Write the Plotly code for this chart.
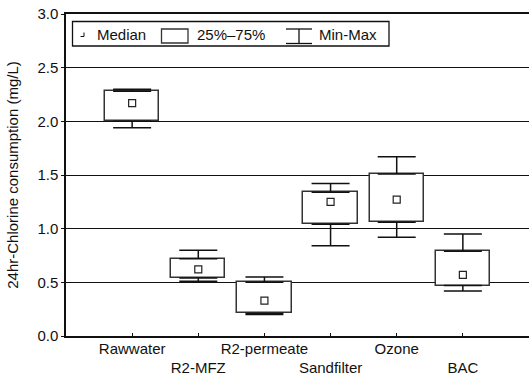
import plotly.graph_objects as go

# ---- data ----
categories = ["Rawwater", "R2-MFZ", "R2-permeate", "Sandfilter", "Ozone", "BAC"]
q1_vals     = [2.00, 0.54, 0.21, 1.04, 1.06, 0.47]
q3_vals     = [2.28, 0.72, 0.50, 1.34, 1.51, 0.79]
median_vals = [2.17, 0.62, 0.33, 1.25, 1.27, 0.57]
min_vals    = [1.94, 0.51, 0.20, 0.84, 0.92, 0.42]
max_vals    = [2.30, 0.80, 0.55, 1.42, 1.67, 0.95]
y_ticks = [0.0, 0.5, 1.0, 1.5, 2.0, 2.5, 3.0]
y_title = "24hr-Chlorine consumption (mg/L)"
legend_labels = ["Median", "25%\u201375%", "Min-Max"]

xpos = list(range(len(categories)))
tick_text = [c if i % 2 == 0 else "<br>" + c for i, c in enumerate(categories)]

FONT = "Liberation Sans, Arial, Helvetica, sans-serif"
W, H = 531, 375
ML, MR, MT, MB = 66, 2, 14, 39

fig = go.Figure()

# boxes (25%-75%)
fig.add_trace(go.Bar(
    x=xpos, y=[b - a for a, b in zip(q1_vals, q3_vals)], base=q1_vals,
    width=0.82, marker=dict(color="white", line=dict(color="#333333", width=1.5)),
    showlegend=False, hoverinfo="skip"))

# upper whiskers
fig.add_trace(go.Scatter(
    x=xpos, y=q3_vals, mode="markers",
    marker=dict(size=1, color="rgba(0,0,0,0)"),
    error_y=dict(type="data", symmetric=False,
                 array=[m - q for m, q in zip(max_vals, q3_vals)],
                 arrayminus=[0] * len(xpos),
                 color="#111111", thickness=1.5, width=19),
    showlegend=False, hoverinfo="skip"))

# lower whiskers
fig.add_trace(go.Scatter(
    x=xpos, y=q1_vals, mode="markers",
    marker=dict(size=1, color="rgba(0,0,0,0)"),
    error_y=dict(type="data", symmetric=False,
                 array=[0] * len(xpos),
                 arrayminus=[q - m for q, m in zip(q1_vals, min_vals)],
                 color="#111111", thickness=1.5, width=19),
    showlegend=False, hoverinfo="skip"))

# medians
fig.add_trace(go.Scatter(
    x=xpos, y=median_vals, mode="markers",
    marker=dict(symbol="square-open", size=7, color="#222222", line=dict(width=1.2)),
    showlegend=False, hoverinfo="skip"))

# ---- manual legend (paper coordinates) ----
pw, ph = W - ML - MR, H - MT - MB
def px(x):
    return (x - ML) / pw
def py(y):
    return (H - MB - y) / ph

shapes = [
    dict(type="rect", xref="paper", yref="paper", x0=px(72.5), x1=px(389), y0=py(46), y1=py(21.5),
         line=dict(color="#111111", width=1.3), fillcolor="white"),
    dict(type="path", xref="paper", yref="paper",
         path=f"M {px(80.5)},{py(36.5)} L {px(84)},{py(36.5)} L {px(84)},{py(32.5)}",
         line=dict(color="#111111", width=1)),
    dict(type="rect", xref="paper", yref="paper", x0=px(161.5), x1=px(188), y0=py(43), y1=py(29),
         line=dict(color="#333333", width=1.3)),
    dict(type="line", xref="paper", yref="paper", x0=px(286), x1=px(312), y0=py(29), y1=py(29),
         line=dict(color="#111111", width=1.3)),
    dict(type="line", xref="paper", yref="paper", x0=px(299), x1=px(299), y0=py(29), y1=py(43.5),
         line=dict(color="#111111", width=1.3)),
    dict(type="line", xref="paper", yref="paper", x0=px(286), x1=px(312), y0=py(43.5), y1=py(43.5),
         line=dict(color="#111111", width=1.3)),
]
annotations = []
for lx, txt in zip([95, 195, 317], legend_labels):
    annotations.append(dict(xref="paper", yref="paper", x=px(lx), y=py(35), text=txt,
                            showarrow=False, xanchor="left", yanchor="middle",
                            font=dict(family=FONT, size=15, color="#111111")))

fig.update_layout(
    width=W, height=H,
    margin=dict(l=ML, r=MR, t=MT, b=MB, pad=0),
    paper_bgcolor="white", plot_bgcolor="white",
    font=dict(family=FONT, size=15, color="#111111"),
    shapes=shapes, annotations=annotations,
    xaxis=dict(range=[-1, 6], tickvals=xpos, ticktext=tick_text, tickangle=0,
               automargin=False, ticklabelstandoff=-2,
               showgrid=False, zeroline=False, showline=True, mirror=True,
               linecolor="#111111", linewidth=1.5,
               ticks="inside", ticklen=3, tickcolor="#111111", tickwidth=1,
               tickfont=dict(size=15)),
    yaxis=dict(range=[0, 3], tickvals=y_ticks, tickformat=".1f", automargin=False,
               showgrid=True, gridcolor="#111111", gridwidth=1.3, zeroline=False,
               showline=True, linecolor="#111111", linewidth=1.5,
               ticks="outside", ticklen=3, tickcolor="#111111",
               tickfont=dict(size=15),
               title=dict(text=y_title, font=dict(size=15))),
    bargap=0,
)

fig.write_html("out.html")
